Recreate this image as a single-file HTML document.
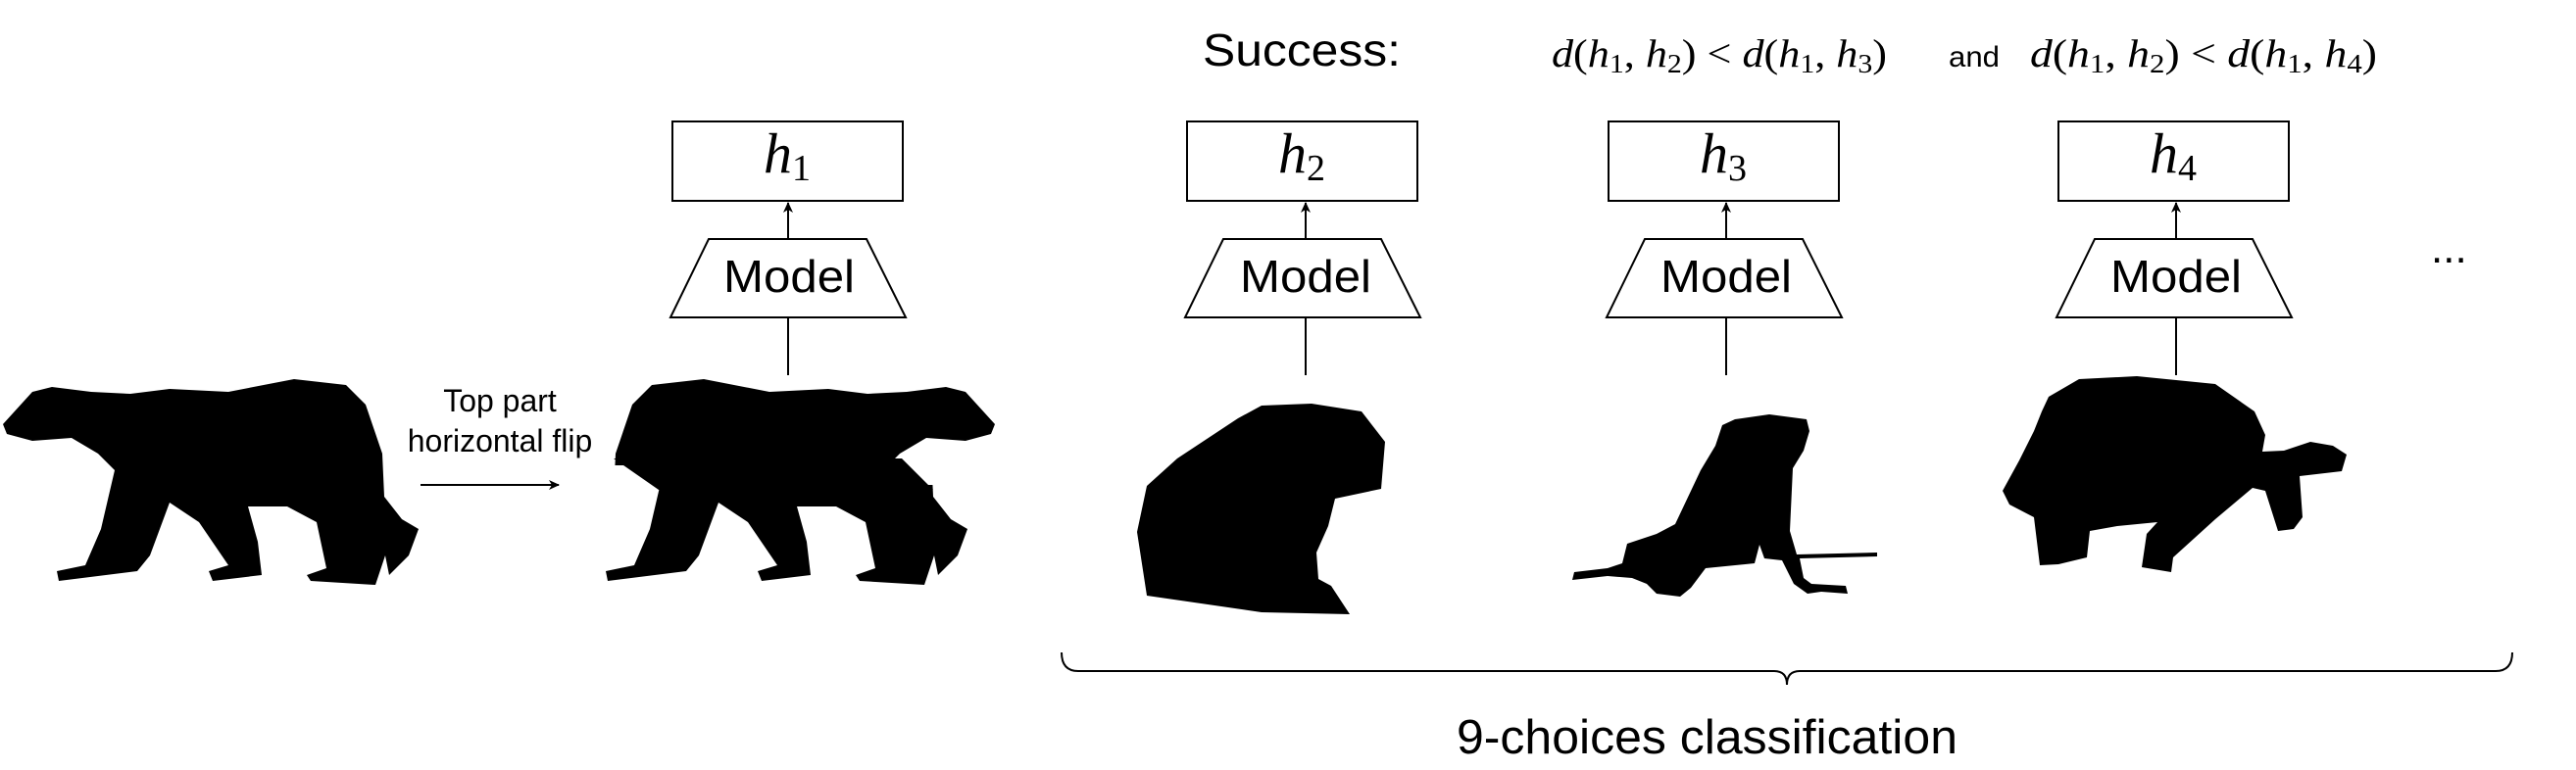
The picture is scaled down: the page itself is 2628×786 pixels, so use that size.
<!DOCTYPE html>
<html><head><meta charset="utf-8"><style>
html,body{margin:0;padding:0;background:#fff;}
svg{display:block;}
.s{font-family:"Liberation Sans",sans-serif;}
.m{font-family:"Liberation Serif",serif;font-style:italic;}
.r{font-family:"Liberation Serif",serif;}
</style></head><body>
<svg width="2628" height="786" viewBox="0 0 2628 786" xmlns="http://www.w3.org/2000/svg">
<defs>
<marker id="ar" markerWidth="12" markerHeight="12" refX="10" refY="6" orient="auto" markerUnits="userSpaceOnUse">
<path d="M0,1 L11,6 L0,11 L3,6 Z" fill="#000"/></marker>
<path id="bear" d="M3,433 L33,400 L53,395 L93,400 L133,402 L173,397 L233,400 L300,387 L353,393 L373,413 L390,463 L392,507 L410,530 L427,540 L417,567 L397,587 L393,567 L383,597 L317,593 L313,587 L333,580 L323,533 L293,517 L253,517 L263,553 L267,587 L217,593 L213,583 L233,577 L203,533 L173,513 L153,567 L140,583 L60,593 L58,583 L87,577 L103,540 L117,480 L100,463 L73,447 L33,450 L7,443 Z"/>
<clipPath id="top"><rect x="0" y="0" width="2628" height="475"/></clipPath>
<clipPath id="bot"><rect x="0" y="495" width="2628" height="300"/></clipPath>
</defs>
<rect width="2628" height="786" fill="#fff"/>

<use href="#bear" fill="#000"/>
<g fill="#000">
<g clip-path="url(#top)"><use href="#bear" transform="translate(1018,0) scale(-1,1)"/></g>
<g clip-path="url(#bot)"><use href="#bear" transform="translate(560,0)"/></g>
<polygon points="626,468 920,468 952,500 672,500"/>
</g>

<text class="s" x="510" y="420" font-size="32" text-anchor="middle">Top part</text>
<text class="s" x="510" y="461" font-size="32" text-anchor="middle">horizontal flip</text>
<line x1="429" y1="495" x2="570" y2="495" stroke="#000" stroke-width="2" marker-end="url(#ar)"/>

<g stroke="#000" stroke-width="2" fill="none">
<rect x="686" y="124" width="235" height="81"/>
<polygon points="723,244 884,244 924,324 684,324"/>
<line x1="804" y1="383" x2="804" y2="324"/>
<line x1="804" y1="244" x2="804" y2="207" marker-end="url(#ar)"/>

<rect x="1211" y="124" width="235" height="81"/>
<polygon points="1248,244 1409,244 1449,324 1209,324"/>
<line x1="1332" y1="383" x2="1332" y2="324"/>
<line x1="1332" y1="244" x2="1332" y2="207" marker-end="url(#ar)"/>

<rect x="1641" y="124" width="235" height="81"/>
<polygon points="1678,244 1839,244 1879,324 1639,324"/>
<line x1="1761" y1="383" x2="1761" y2="324"/>
<line x1="1761" y1="244" x2="1761" y2="207" marker-end="url(#ar)"/>

<rect x="2100" y="124" width="235" height="81"/>
<polygon points="2137,244 2298,244 2338,324 2098,324"/>
<line x1="2220" y1="383" x2="2220" y2="324"/>
<line x1="2220" y1="244" x2="2220" y2="207" marker-end="url(#ar)"/>
</g>

<g font-size="58">
<text x="803" y="176" text-anchor="middle"><tspan class="m">h</tspan><tspan class="r" font-size="38" dy="8">1</tspan></text>
<text x="1328" y="176" text-anchor="middle"><tspan class="m">h</tspan><tspan class="r" font-size="38" dy="8">2</tspan></text>
<text x="1758" y="176" text-anchor="middle"><tspan class="m">h</tspan><tspan class="r" font-size="38" dy="8">3</tspan></text>
<text x="2217" y="176" text-anchor="middle"><tspan class="m">h</tspan><tspan class="r" font-size="38" dy="8">4</tspan></text>
</g>
<g class="s" font-size="46">
<text x="738" y="298" textLength="134" lengthAdjust="spacingAndGlyphs">Model</text>
<text x="1265" y="298" textLength="134" lengthAdjust="spacingAndGlyphs">Model</text>
<text x="1694" y="298" textLength="134" lengthAdjust="spacingAndGlyphs">Model</text>
<text x="2153" y="298" textLength="134" lengthAdjust="spacingAndGlyphs">Model</text>
</g>
<text class="s" x="2480" y="268" font-size="44">...</text>

<text class="s" x="1227" y="67" font-size="46" textLength="202" lengthAdjust="spacingAndGlyphs">Success:</text>
<text class="r" x="1583" y="68" font-size="40" textLength="342" lengthAdjust="spacingAndGlyphs"><tspan font-style="italic">d</tspan>(<tspan font-style="italic">h</tspan><tspan font-size="27" dy="6">1</tspan><tspan dy="-6">, </tspan><tspan font-style="italic">h</tspan><tspan font-size="27" dy="6">2</tspan><tspan dy="-6">) &lt; </tspan><tspan font-style="italic">d</tspan>(<tspan font-style="italic">h</tspan><tspan font-size="27" dy="6">1</tspan><tspan dy="-6">, </tspan><tspan font-style="italic">h</tspan><tspan font-size="27" dy="6">3</tspan><tspan dy="-6">)</tspan></text>
<text class="s" x="1988" y="68" font-size="30" textLength="52" lengthAdjust="spacingAndGlyphs">and</text>
<text class="r" x="2071" y="68" font-size="40" textLength="354" lengthAdjust="spacingAndGlyphs"><tspan font-style="italic">d</tspan>(<tspan font-style="italic">h</tspan><tspan font-size="27" dy="6">1</tspan><tspan dy="-6">, </tspan><tspan font-style="italic">h</tspan><tspan font-size="27" dy="6">2</tspan><tspan dy="-6">) &lt; </tspan><tspan font-style="italic">d</tspan>(<tspan font-style="italic">h</tspan><tspan font-size="27" dy="6">1</tspan><tspan dy="-6">, </tspan><tspan font-style="italic">h</tspan><tspan font-size="27" dy="6">4</tspan><tspan dy="-6">)</tspan></text>

<path fill="#000" d="M1263,427 L1287,414 L1338,412 L1389,420 L1413,451 L1409,499 L1362,509 L1355,537 L1343,564 L1345,591 L1358,598 L1377,627 L1287,625 L1170,608 L1160,543 L1170,496 L1201,468 Z"/>
<path fill="#000" d="M1757,434 L1770,428 L1805,423 L1843,428 L1846,440 L1840,460 L1829,478 L1826,542 L1833,566 L1915,564 L1915,568 L1836,570 L1840,590 L1848,596 L1883,598 L1885,606 L1858,604 L1844,606 L1830,596 L1818,572 L1800,570 L1795,556 L1790,575 L1740,580 L1725,600 L1714,609 L1690,606 L1680,596 L1665,590 L1640,588 L1604,592 L1601,604 L1606,584 L1640,580 L1655,575 L1660,555 L1690,545 L1709,535 L1735,480 L1750,455 Z"/>
<path fill="#000" d="M2121,387 L2180,384 L2260,392 L2300,420 L2311,444 L2308,461 L2330,460 L2357,451 L2380,455 L2394,464 L2389,481 L2346,486 L2349,528 L2340,540 L2324,542 L2311,501 L2298,498 L2260,530 L2217,569 L2215,584 L2185,579 L2190,545 L2201,533 L2160,537 L2132,542 L2129,569 L2100,576 L2081,577 L2075,528 L2050,515 L2043,501 L2060,470 L2075,440 L2083,420 L2090,405 Z"/>

<path d="M1083,666 Q1083,685 1100,685 L1810,685 Q1823,685 1823,699 Q1823,685 1836,685 L2546,685 Q2563,685 2563,666" fill="none" stroke="#000" stroke-width="2"/>
<text class="s" x="1486" y="769" font-size="49" textLength="511" lengthAdjust="spacingAndGlyphs">9-choices classification</text>
</svg>
</body></html>
